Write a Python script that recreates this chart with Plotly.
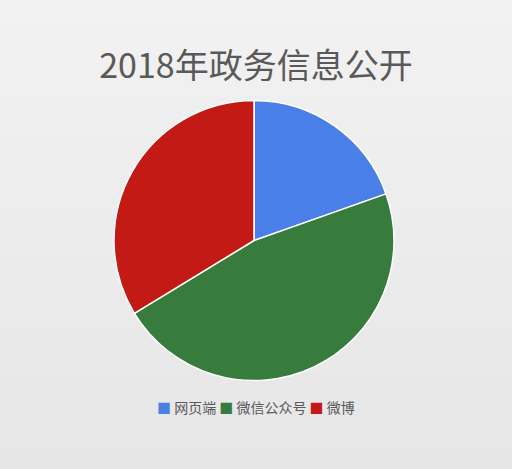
import plotly.graph_objects as go

# 2018 government info disclosure channels (share, %)
channels = ["网页端", "微信公众号", "微博"]
shares = [19.6, 46.7, 33.7]
colors = ["#4a7fe8", "#377b3d", "#c31a16"]

W, H = 512, 469

fig = go.Figure()
fig.add_trace(go.Pie(
    labels=channels, values=shares, sort=False, direction="clockwise", rotation=0,
    marker=dict(colors=colors, line=dict(color="white", width=1.5)),
    textinfo="none", hoverinfo="label+percent", showlegend=False,
    domain=dict(x=[(254 - 140) / W, (254 + 140) / W], y=[(H - 381) / H, (H - 100) / H]),
))

# soft vertical gradient for the background (light top -> slightly darker bottom)
shapes = []
n = 24
top, bot = 0xf2, 0xe6
for i in range(n):
    c = round(top + (bot - top) * (i + 0.5) / n)
    shapes.append(dict(type="rect", xref="paper", yref="paper", layer="below",
                       x0=0, x1=1, y0=1 - (i + 1) / n, y1=1 - i / n + 0.002,
                       fillcolor=f"rgb({c},{c},{c})", line=dict(width=0)))

# compact legend, squares + labels in one line
legend_txt = " ".join(
    f'<span style="color:{c}">■</span> {name}' for name, c in zip(channels, colors))

fig.update_layout(
    width=W, height=H,
    margin=dict(l=0, r=0, t=0, b=0),
    paper_bgcolor="#ececec",
    shapes=shapes,
    showlegend=False,
    title=dict(text="2018年政务信息公开", x=0.5, xanchor="center", y=(H - 66) / H, yanchor="middle",
               font=dict(family="Noto Sans CJK SC", size=34, color="#595959")),
    annotations=[dict(text=legend_txt, xref="paper", yref="paper", x=0.5, y=(H - 407) / H,
                      xanchor="center", yanchor="middle", showarrow=False,
                      font=dict(family="Noto Sans CJK SC", size=14, color="#595959"))],
    font=dict(family="Noto Sans CJK SC"),
)

fig.write_html("out.html", config={"displayModeBar": False},
               post_script="document.body.style.margin='0';")
